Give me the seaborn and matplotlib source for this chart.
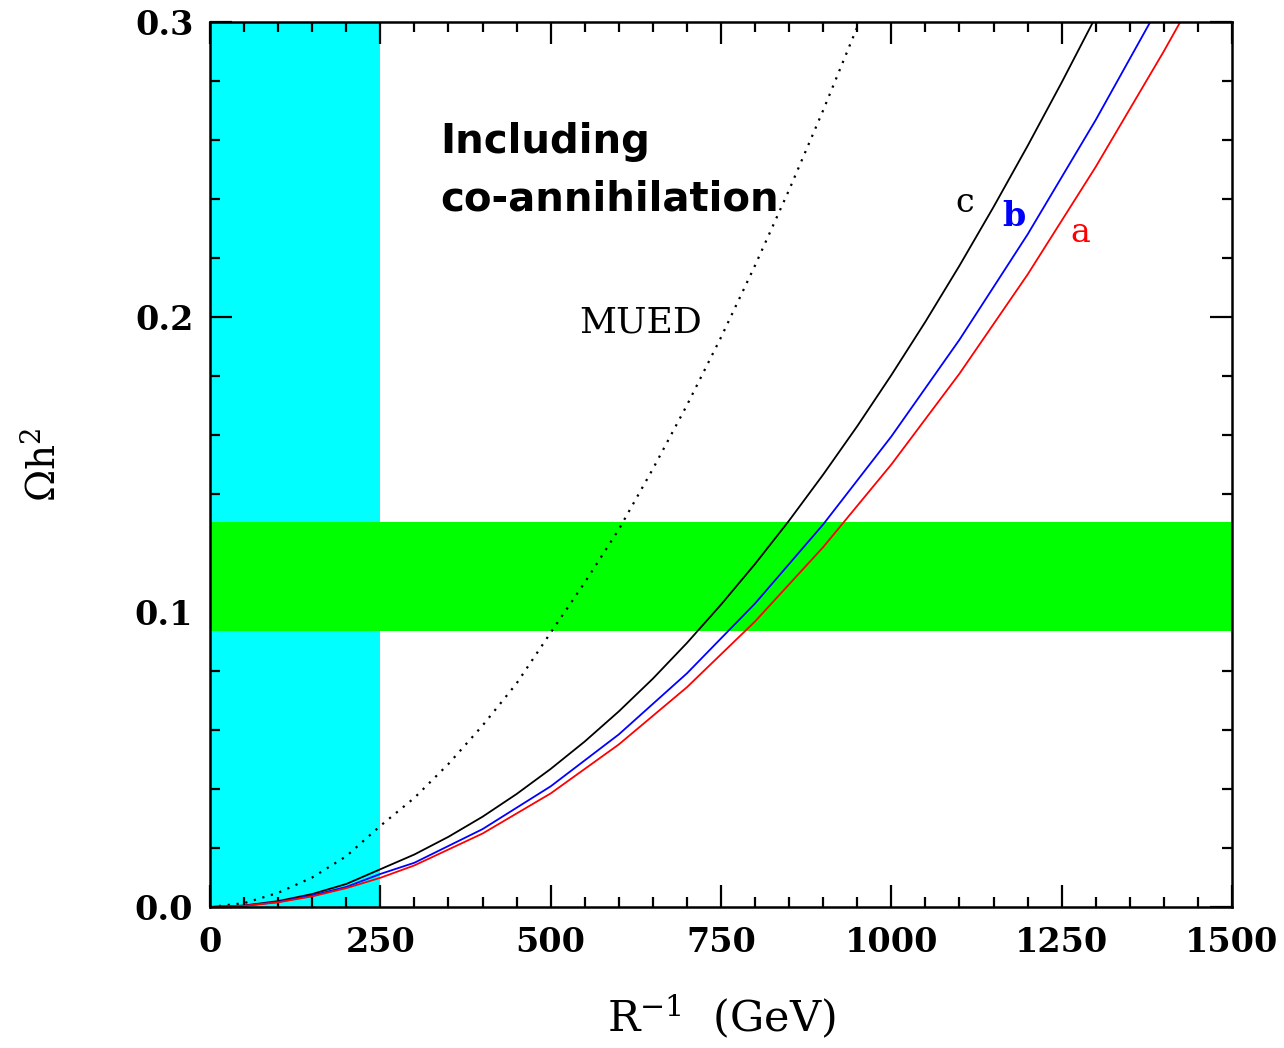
import matplotlib
matplotlib.use("Agg")
import matplotlib.pyplot as plt
import seaborn as sns
import pandas as pd
from matplotlib.ticker import MultipleLocator, FormatStrFormatter

# ---------------- data ----------------
x_mued = [0, 50, 100, 150, 200, 250, 300, 350, 400, 450, 500, 550, 600,
          650, 700, 750, 800, 850, 900, 953]
y_mued = [0, 0.0013, 0.0048, 0.0100, 0.0172, 0.0275, 0.0370, 0.0485, 0.0615,
          0.0758, 0.0930, 0.1100, 0.1280, 0.1485, 0.1701, 0.1931, 0.2175,
          0.2431, 0.2701, 0.300]

x_c = [0, 50, 100, 150, 200, 250, 300, 350, 400, 450, 500, 550, 600, 650,
       700, 750, 800, 850, 900, 950, 1000, 1050, 1100, 1150, 1200, 1250, 1296]
y_c = [0, 0.0005, 0.0020, 0.0044, 0.0078, 0.0128, 0.0178, 0.0238, 0.0306,
       0.0383, 0.0468, 0.0561, 0.0663, 0.0774, 0.0895, 0.1025, 0.1163,
       0.1310, 0.1466, 0.1630, 0.1803, 0.1984, 0.2174, 0.2373, 0.2580,
       0.2795, 0.300]

x_b = [0, 50, 100, 150, 200, 250, 300, 400, 500, 600, 700, 800, 900, 1000,
       1100, 1200, 1300, 1380]
y_b = [0, 0.0004, 0.0017, 0.0039, 0.0068, 0.0112, 0.0150, 0.0264, 0.0409,
       0.0585, 0.0792, 0.1029, 0.1297, 0.1595, 0.1923, 0.2280, 0.2668, 0.300]

x_a = [0, 50, 100, 150, 200, 250, 300, 400, 500, 600, 700, 800, 900, 1000,
       1100, 1200, 1300, 1400, 1424]
y_a = [0, 0.0004, 0.0016, 0.0036, 0.0064, 0.0099, 0.0141, 0.0249, 0.0385,
       0.0551, 0.0745, 0.0968, 0.1220, 0.1500, 0.1808, 0.2144, 0.2509,
       0.2901, 0.300]

cyan_band = [0, 250]           # excluded region in R^-1
green_band = [0.0935, 0.1305]  # WMAP band in Omega h^2

x_ticks = [0, 250, 500, 750, 1000, 1250, 1500]
y_ticks = [0.0, 0.1, 0.2, 0.3]

# ---------------- style ----------------
sns.set_theme(style="ticks")
plt.rcParams['font.family'] = ['DejaVu Serif']
plt.rcParams['mathtext.fontset'] = 'dejavuserif'
for k in ['text.color', 'axes.labelcolor', 'xtick.color', 'ytick.color',
          'xtick.labelcolor', 'ytick.labelcolor']:
    plt.rcParams[k] = 'black'

fig = plt.figure(figsize=(12.84, 10.48), dpi=100)
ax = fig.add_axes([210 / 1284, 1 - 907 / 1048, 1022 / 1284, 885 / 1048])

ax.axvspan(cyan_band[0], cyan_band[1], color='#00FFFF', lw=0, zorder=0)
ax.axhspan(green_band[0], green_band[1], color='#00FF00', lw=0, zorder=1)

curves = [
    (x_mued, y_mued, 'black', (0, (1, 3)), 1.6),
    (x_c, y_c, 'black', '-', 1.3),
    (x_b, y_b, 'blue', '-', 1.3),
    (x_a, y_a, 'red', '-', 1.3),
]
for xs, ys, col, ls, lw in curves:
    df = pd.DataFrame({'x': xs, 'y': ys})
    sns.lineplot(data=df, x='x', y='y', ax=ax, color=col, linestyle=ls,
                 lw=lw, estimator=None, sort=True, zorder=3)

ax.set_xlim(0, 1500)
ax.set_ylim(0, 0.3)
ax.set_xticks(x_ticks)
ax.set_yticks(y_ticks)
ax.yaxis.set_major_formatter(FormatStrFormatter('%.1f'))
ax.xaxis.set_minor_locator(MultipleLocator(50))
ax.yaxis.set_minor_locator(MultipleLocator(0.02))
ax.tick_params(which='both', direction='in', top=True, right=True,
               color='black', width=1.6)
ax.tick_params(which='major', length=16, labelsize=24, pad=12)
ax.tick_params(axis='x', which='major', pad=14)
ax.tick_params(which='minor', length=7)
for lab in ax.get_xticklabels() + ax.get_yticklabels():
    lab.set_fontweight('bold')
for s in ax.spines.values():
    s.set_visible(True)
    s.set_color('black')
    s.set_linewidth(1.8)
    s.set_zorder(5)

ax.set_xlabel(r'R$^{-1}$  (GeV)', fontsize=31, labelpad=24)
ax.set_ylabel(r'$\Omega$h$^2$', fontsize=28, labelpad=52)

ax.text(338, 0.266, 'Including\nco-annihilation', fontsize=29,
        fontweight='bold', family='DejaVu Sans', ha='left', va='top',
        linespacing=1.55, zorder=6)
ax.text(632, 0.198, 'MUED', fontsize=26, ha='center', va='center', zorder=6)
ax.text(1108, 0.2385, 'c', fontsize=24, color='black', ha='center', va='center', zorder=6)
ax.text(1180, 0.2340, 'b', fontsize=24, color='blue', ha='center', va='center',
        fontweight='bold', zorder=6)
ax.text(1278, 0.2285, 'a', fontsize=24, color='red', ha='center', va='center', zorder=6)

fig.savefig('out.png', dpi=100, facecolor='white')
